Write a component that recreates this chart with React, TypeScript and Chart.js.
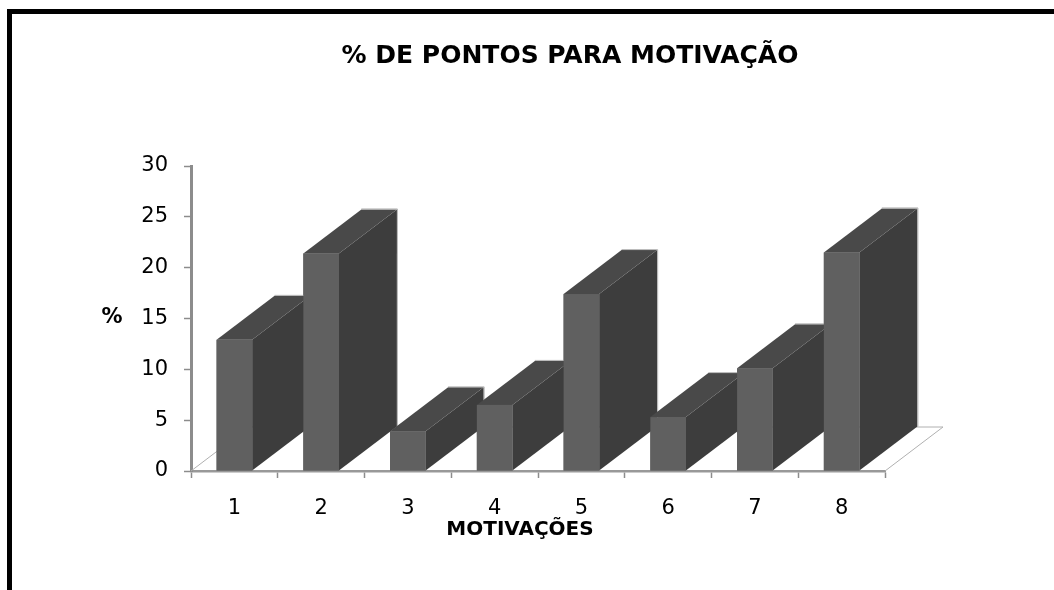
import { useEffect, useRef } from 'react';
import { Chart, registerables } from 'chart.js';

Chart.register(...registerables);

const TITLE = '% DE PONTOS PARA MOTIVAÇÃO';
const X_TITLE = 'MOTIVAÇÕES';
const Y_TITLE = '%';
const CATEGORIES = ['1', '2', '3', '4', '5', '6', '7', '8'];
const VALUES = [12.9, 21.4, 3.9, 6.5, 17.4, 5.3, 10.1, 21.5];
const Y_MIN = 0;
const Y_MAX = 30;
const Y_STEP = 5;

const FRONT = '#606060';
const SIDE = '#3d3d3d';
const TOPC = '#494949';
const EDGE = '#b5b5b5';
const AXIS = '#8c8c8c';
const FLOOR = '#b0b0b0';
const DX = 58;
const DY = 44;
const FONT = '"DejaVu Sans", Verdana, sans-serif';

export default function App() {
  const ref = useRef<HTMLCanvasElement>(null);

  useEffect(() => {
    const canvas = ref.current;
    if (!canvas) return;

    const bar3d = {
      id: 'bar3d',
      beforeDatasetsDraw(chart: any) {
        const ctx = chart.ctx;
        const y = chart.scales.y;
        const x = chart.scales.x;
        const y0 = y.getPixelForValue(0);
        const l = x.left;
        const r = x.right;
        ctx.save();
        ctx.strokeStyle = FLOOR;
        ctx.lineWidth = 1;
        ctx.beginPath();
        ctx.moveTo(l, y0);
        ctx.lineTo(l + DX, y0 - DY);
        ctx.lineTo(r + DX, y0 - DY);
        ctx.lineTo(r, y0);
        ctx.stroke();
        ctx.restore();
      },
      afterDatasetsDraw(chart: any) {
        const ctx = chart.ctx;
        const meta = chart.getDatasetMeta(0);
        ctx.save();
        meta.data.forEach((bar: any) => {
          const p = bar.getProps(['x', 'y', 'base', 'width'], true);
          const l = p.x - p.width / 2;
          const r = p.x + p.width / 2;
          const top = p.y;
          const base = p.base;
          // side face
          ctx.fillStyle = SIDE;
          ctx.beginPath();
          ctx.moveTo(r, top);
          ctx.lineTo(r + DX, top - DY);
          ctx.lineTo(r + DX, base - DY);
          ctx.lineTo(r, base);
          ctx.closePath();
          ctx.fill();
          // top face
          ctx.fillStyle = TOPC;
          ctx.beginPath();
          ctx.moveTo(l, top);
          ctx.lineTo(l + DX, top - DY);
          ctx.lineTo(r + DX, top - DY);
          ctx.lineTo(r, top);
          ctx.closePath();
          ctx.fill();
          // light back edges
          ctx.strokeStyle = EDGE;
          ctx.lineWidth = 1;
          ctx.beginPath();
          ctx.moveTo(l + DX, top - DY - 0.5);
          ctx.lineTo(r + DX + 0.5, top - DY - 0.5);
          ctx.lineTo(r + DX + 0.5, base - DY);
          ctx.stroke();
          // front face
          ctx.fillStyle = FRONT;
          ctx.fillRect(l, top, r - l, base - top);
        });
        ctx.restore();
      },
    };

    const texts = {
      id: 'texts',
      afterDraw(chart: any) {
        const ctx = chart.ctx;
        ctx.save();
        ctx.fillStyle = '#000';
        ctx.textAlign = 'center';
        ctx.textBaseline = 'alphabetic';
        ctx.font = `bold 25px ${FONT}`;
        ctx.fillText(TITLE, 570, 63);
        ctx.font = `bold 20px ${FONT}`;
        ctx.fillText(X_TITLE, 520, 535);
        ctx.font = `bold 21px ${FONT}`;
        ctx.textBaseline = 'middle';
        ctx.fillText(Y_TITLE, 112, 318);
        ctx.restore();
      },
    };

    const chart = new Chart(canvas, {
      type: 'bar',
      data: {
        labels: CATEGORIES,
        datasets: [
          {
            data: VALUES,
            backgroundColor: FRONT,
            borderWidth: 0,
            barPercentage: 0.41,
            categoryPercentage: 1,
          },
        ],
      },
      options: {
        responsive: false,
        animation: false,
        devicePixelRatio: 1,
        layout: { padding: { left: 0, top: 166, right: 169, bottom: 0 } },
        plugins: {
          legend: { display: false },
          title: { display: false },
          tooltip: { enabled: false },
        },
        scales: {
          x: {
            afterFit: (s: any) => {
              s.height = 119;
            },
            grid: {
              drawOnChartArea: false,
              drawTicks: true,
              tickLength: 7,
              tickWidth: 1.5,
              tickColor: AXIS,
              offset: true,
            },
            border: { display: true, color: '#999999', width: 2.5 },
            ticks: {
              color: '#000',
              padding: 18,
              font: { family: FONT, size: 21 },
            },
          },
          y: {
            min: Y_MIN,
            max: Y_MAX,
            afterFit: (s: any) => {
              s.width = 191;
            },
            grid: {
              drawOnChartArea: false,
              drawTicks: true,
              tickLength: 7,
              tickWidth: 1.5,
              tickColor: AXIS,
            },
            border: { display: true, color: AXIS, width: 3 },
            ticks: {
              stepSize: Y_STEP,
              color: '#000',
              padding: 16,
              font: { family: FONT, size: 21 },
            },
          },
        },
      },
      plugins: [bar3d, texts],
    });

    return () => chart.destroy();
  }, []);

  return (
    <div
      style={{
        position: 'fixed',
        left: 0,
        top: 0,
        width: 1054,
        height: 590,
        overflow: 'hidden',
        background: '#fff',
      }}
    >
      <div
        style={{
          position: 'absolute',
          left: 7,
          top: 9,
          width: 2000,
          height: 2000,
          borderLeft: '5px solid #000',
          borderTop: '5px solid #000',
        }}
      />
      <canvas
        ref={ref}
        width={1054}
        height={590}
        style={{ position: 'absolute', left: 0, top: 0, width: 1054, height: 590 }}
      />
    </div>
  );
}
